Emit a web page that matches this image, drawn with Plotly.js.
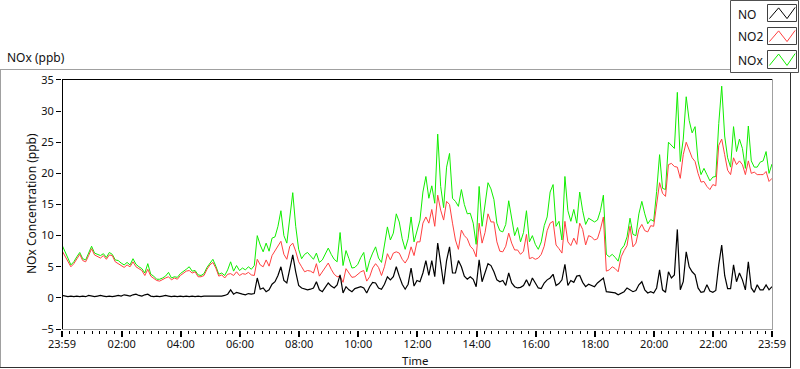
<!DOCTYPE html>
<html>
<head>
<meta charset="utf-8">
<script src="https://cdn.plot.ly/plotly-3.0.1.min.js"></script>
<style>
html,body{margin:0;padding:0;background:#fff;}
#chart{width:800px;height:369px;}
</style>
</head>
<body>
<div id="chart"></div>
<script>
// Data: 6-minute samples starting at 23:59 (hours after start)
const NO2 = [7.6,6.8,6.0,5.0,5.5,6.2,7.0,6.0,5.8,6.8,7.9,6.9,6.6,6.4,6.8,6.2,6.9,6.8,5.8,5.5,5.3,4.9,5.3,5.0,5.8,5.0,4.7,4.4,3.6,4.6,3.5,3.2,2.8,2.7,3.0,3.2,3.4,2.9,3.2,3.0,3.6,3.9,4.3,4.4,4.0,4.2,3.4,3.4,3.6,4.6,5.3,5.7,4.8,3.5,3.7,3.2,3.8,3.9,3.6,4.2,3.6,
3.9,3.8,4.1,3.7,3.6,6.2,5.3,5.0,6.1,5.1,6.8,7.6,8.2,9.1,7.0,6.2,8.3,8.8,7.5,5.8,5.0,4.2,4.4,4.3,4.0,5.5,3.5,4.2,5.0,5.6,4.6,3.8,3.4,3.5,2.5,4.7,4.0,3.3,3.4,3.8,4.2,4.4,2.7,3.4,4.8,5.5,4.9,3.6,5.0,7.1,6.1,7.2,7.4,7.2,6.2,5.6,6.4,8.2,6.8,9.0,
9.0,12.0,13.0,12.0,14.2,11.5,16.5,14.1,12.5,15.5,15.0,12.0,9.3,7.8,10.9,10.0,9.5,8.3,7.8,6.6,12.0,8.8,10.5,13.5,12.2,12.2,9.0,7.5,7.4,8.3,10.4,8.8,7.7,7.7,7.0,7.5,10.2,6.3,6.5,6.2,6.4,7.0,8.3,10.8,12.0,12.3,8.5,7.9,7.2,12.3,9.0,8.4,9.6,8.6,12.0,11.0,8.5,10.0,9.8,9.3,
9.5,11.0,13.0,4.3,4.5,5.0,4.7,4.2,6.6,7.6,8.4,11.5,8.2,8.8,11.0,11.8,10.8,10.6,11.6,11.5,15.5,18.5,16.8,16.3,21.4,21.6,21.1,21.0,19.2,23.0,25.0,23.8,22.5,21.9,20.0,18.6,18.7,17.9,17.4,18.2,18.0,24.5,25.5,23.0,20.5,19.8,22.5,21.4,22.0,21.4,19.8,22.0,20.0,20.2,19.8,19.8,19.8,20.3,18.7,19.2];

const NOX = [8.5,7.3,6.4,5.3,5.8,6.6,7.3,6.3,6.1,7.2,8.3,7.2,7.0,6.8,7.1,6.5,7.3,7.0,6.1,6.0,5.6,5.3,5.7,5.3,6.3,5.4,5.0,4.7,4.0,5.5,3.8,3.5,3.0,3.0,3.2,3.5,4.1,3.2,3.4,3.3,3.9,4.2,4.6,5.0,4.3,4.4,3.7,3.6,3.9,4.9,5.6,6.2,5.1,3.8,4.0,3.6,4.5,5.8,4.3,5.2,4.4,
4.8,4.5,5.0,4.6,5.2,10.0,8.5,7.4,8.8,7.5,9.6,9.8,11.5,14.0,10.0,8.8,12.5,16.9,11.5,7.8,6.3,7.0,7.3,6.8,6.2,7.2,5.7,6.1,7.2,8.0,7.0,6.2,5.8,10.5,5.2,7.6,6.3,4.8,4.9,5.4,6.5,7.3,4.2,6.0,7.2,8.2,6.4,5.7,8.5,11.4,9.3,10.4,13.5,12.2,9.5,7.8,9.5,13.0,9.0,10.8,
12.5,17.0,19.5,16.0,18.0,15.2,26.3,17.9,14.5,21.0,23.2,16.0,15.5,14.7,17.4,15.0,13.5,13.6,12.0,8.6,17.9,11.5,15.0,18.5,17.5,15.8,12.0,10.8,10.6,11.8,15.6,12.5,10.0,11.3,9.0,10.5,14.0,9.0,10.0,8.6,7.8,9.0,11.6,13.0,17.0,18.2,11.5,12.3,9.3,19.5,14.0,12.3,14.2,12.0,17.0,14.0,11.8,12.8,12.5,12.2,
12.5,14.0,16.5,7.0,6.6,7.0,6.5,5.9,7.8,8.4,9.8,12.8,10.2,10.0,13.5,15.5,13.5,11.9,12.6,12.3,17.1,23.0,17.6,17.4,25.0,24.5,24.0,33.0,21.9,25.5,32.3,28.5,26.5,27.5,22.0,19.8,20.8,19.8,18.8,19.4,19.5,28.0,34.0,26.0,22.5,21.0,27.5,23.5,25.5,24.0,20.8,27.6,22.0,21.0,21.0,21.8,22.0,23.5,20.0,21.5];

const NO = [0.4,0.3,0.2,0.3,0.2,0.3,0.2,0.3,0.2,0.4,0.3,0.2,0.3,0.4,0.3,0.2,0.3,0.2,0.3,0.4,0.3,0.5,0.4,0.3,0.5,0.6,0.4,0.3,0.5,0.6,0.3,0.2,0.3,0.2,0.3,0.4,0.3,0.2,0.3,0.2,0.3,0.2,0.3,0.2,0.3,0.2,0.3,0.2,0.3,0.3,0.2,0.3,0.3,0.2,0.3,0.4,0.6,1.3,0.6,0.9,0.7,
0.6,0.5,0.7,0.6,0.7,3.2,1.4,1.6,1.0,1.3,2.2,2.6,3.6,5.0,2.8,2.4,4.5,6.9,4.2,2.0,1.6,1.5,1.3,1.4,1.6,2.6,1.3,1.0,1.8,2.4,1.9,1.6,2.1,3.7,0.8,1.8,1.3,1.0,1.5,1.7,1.8,1.6,0.8,1.8,2.5,2.4,1.6,1.4,2.2,3.4,2.9,3.4,5.0,3.5,2.2,1.4,2.2,4.8,1.9,2.8,
2.6,4.0,6.0,3.6,6.0,3.4,8.8,5.6,2.2,6.0,8.2,4.0,4.0,6.0,5.0,3.5,3.0,3.4,3.0,1.8,6.1,2.6,4.0,5.5,5.2,4.2,2.9,2.6,2.8,2.0,4.0,2.4,1.8,1.6,1.7,2.0,2.9,1.9,3.2,2.3,1.6,1.5,2.4,2.9,3.2,3.8,2.0,2.3,2.9,5.4,2.0,2.8,2.5,3.5,3.6,2.5,1.8,2.2,2.0,1.8,
2.4,2.8,3.2,1.0,0.9,0.8,0.8,0.5,0.8,1.0,1.6,1.3,1.0,1.2,2.1,2.6,1.3,0.8,1.0,0.8,1.6,4.5,1.3,0.9,4.2,3.2,3.7,11.0,1.3,2.6,7.4,5.0,4.2,3.7,1.6,0.9,1.0,2.1,1.1,0.9,1.2,5.3,8.5,3.6,1.5,1.5,5.3,2.6,4.0,2.9,1.3,5.8,1.6,0.9,2.1,1.3,1.3,2.1,1.3,1.8];

const STEP_HOURS = 0.1;
const hours = NO.map((_, i) => i * STEP_HOURS);

const tickHours = [0, 2+1/60, 4+1/60, 6+1/60, 8+1/60, 10+1/60, 12+1/60, 14+1/60, 16+1/60, 18+1/60, 20+1/60, 22+1/60, 24];
const tickLabels = ['23:59','02:00','04:00','06:00','08:00','10:00','12:00','14:00','16:00','18:00','20:00','22:00','23:59'];
const seriesNames = ['NO', 'NO2', 'NOx'];
const seriesColors = ['#000000', '#ff4040', '#11ee00'];

// pixel -> paper helpers (plot area 62..772 x 79..330)
const L = 62, R = 772, T = 79, B = 330;
const X = p => (p - L) / (R - L);
const Y = p => (B - p) / (B - T);

const FONT = '"Noto Sans", "Open Sans", sans-serif';

const traces = [
  {x: hours, y: NOX, name: seriesNames[2], type: 'scatter', mode: 'lines', line: {color: seriesColors[2], width: 1}},
  {x: hours, y: NO2, name: seriesNames[1], type: 'scatter', mode: 'lines', line: {color: seriesColors[1], width: 1}},
  {x: hours, y: NO, name: seriesNames[0], type: 'scatter', mode: 'lines', line: {color: seriesColors[0], width: 1.2}}
];

function hline(x0, x1, y, color) {
  return {type: 'line', xref: 'paper', yref: 'paper', x0: X(x0), x1: X(x1), y0: Y(y), y1: Y(y), line: {color: color, width: 1}};
}
function vline(x, y0, y1, color) {
  return {type: 'line', xref: 'paper', yref: 'paper', x0: X(x), x1: X(x), y0: Y(y0), y1: Y(y1), line: {color: color, width: 1}};
}
function rect(x0, y0, x1, y1, color) {
  return {type: 'rect', xref: 'paper', yref: 'paper', x0: X(x0), x1: X(x1), y0: Y(y0), y1: Y(y1), line: {color: color, width: 1}, fillcolor: 'rgba(0,0,0,0)'};
}
function zigzag(x0, y0, w, h, color) {
  const pts = [[0.05, 0.85], [0.38, 0.18], [0.68, 0.85], [0.97, 0.15]];
  const d = pts.map((p, k) => (k ? 'L' : 'M') + X(x0 + p[0] * w) + ',' + Y(y0 + p[1] * h)).join(' ');
  return {type: 'path', xref: 'paper', yref: 'paper', path: d, line: {color: color, width: 1}};
}

const shapes = [
  // outer frame
  hline(0, 730, 69.5, '#a0a0a0'),
  vline(0.5, 69, 368, '#a0a0a0'),
  hline(0, 790, 367.5, '#303030'),
  vline(790.5, 72, 368, '#303030'),
  // plot area border
  hline(L, R, 79.5, '#000000'),
  vline(62.5, 79, 330, '#000000'),
  vline(772.5, 79, 330, '#a0a0a0'),
  hline(L, R, 329.5, '#a0a0a0'),
  // legend box
  rect(730.5, 0.5, 798.5, 72.5, '#505050'),
  rect(767.5, 4.5, 796.5, 21.5, '#404040'),
  rect(767.5, 27.5, 796.5, 44.5, '#404040'),
  rect(767.5, 50.5, 796.5, 68.5, '#404040'),
  zigzag(768, 5, 28, 16, seriesColors[0]),
  zigzag(768, 28, 28, 16, seriesColors[1]),
  zigzag(768, 51, 28, 17, seriesColors[2])
];

const txt = (text, x, y, opts) => Object.assign({text: text, xref: 'paper', yref: 'paper', x: X(x), y: Y(y), showarrow: false, font: {family: FONT, size: 12, color: '#111'}}, opts || {});

const annotations = [
  txt('NOx (ppb)', 5, 57, {xanchor: 'left', yanchor: 'middle'}),
  txt('NOx Concentration (ppb)', 31, 204, {xanchor: 'center', yanchor: 'middle', textangle: -90}),
  txt('Time', 415, 369, {xanchor: 'center', yanchor: 'bottom', borderpad: 0, font: {family: FONT, size: 11.5, color: '#111'}}),
  txt(seriesNames[0], 736, 14, {xanchor: 'left', yanchor: 'middle'}),
  txt(seriesNames[1], 736, 37, {xanchor: 'left', yanchor: 'middle'}),
  txt(seriesNames[2], 736, 60, {xanchor: 'left', yanchor: 'middle'})
];

const layout = {
  width: 800, height: 369,
  margin: {l: L, r: 800 - R, t: T, b: 369 - B, pad: 0},
  paper_bgcolor: '#ffffff', plot_bgcolor: '#ffffff',
  showlegend: false,
  font: {family: FONT, size: 11, color: '#111'},
  xaxis: {
    range: [0, 24], tickmode: 'array', tickvals: tickHours, ticktext: tickLabels,
    ticks: 'outside', ticklen: 6, tickwidth: 2, tickcolor: '#000',
    ticklabelstandoff: -2,
    minor: {tick0: 1/60, dtick: 0.25, ticks: 'outside', ticklen: 3, tickwidth: 1, tickcolor: '#000', showgrid: false},
    showgrid: false, zeroline: false, showline: false,
    tickfont: {family: FONT, size: 11, color: '#111'}
  },
  yaxis: {
    range: [-5.15, 35.15], tick0: 0, dtick: 5,
    ticks: 'outside', ticklen: 5, tickwidth: 1, tickcolor: '#000',
    showgrid: false, zeroline: false, showline: false,
    tickfont: {family: FONT, size: 11, color: '#111'}
  },
  shapes: shapes,
  annotations: annotations
};

Plotly.newPlot('chart', traces, layout, {displayModeBar: false, staticPlot: true});
</script>
</body>
</html>
